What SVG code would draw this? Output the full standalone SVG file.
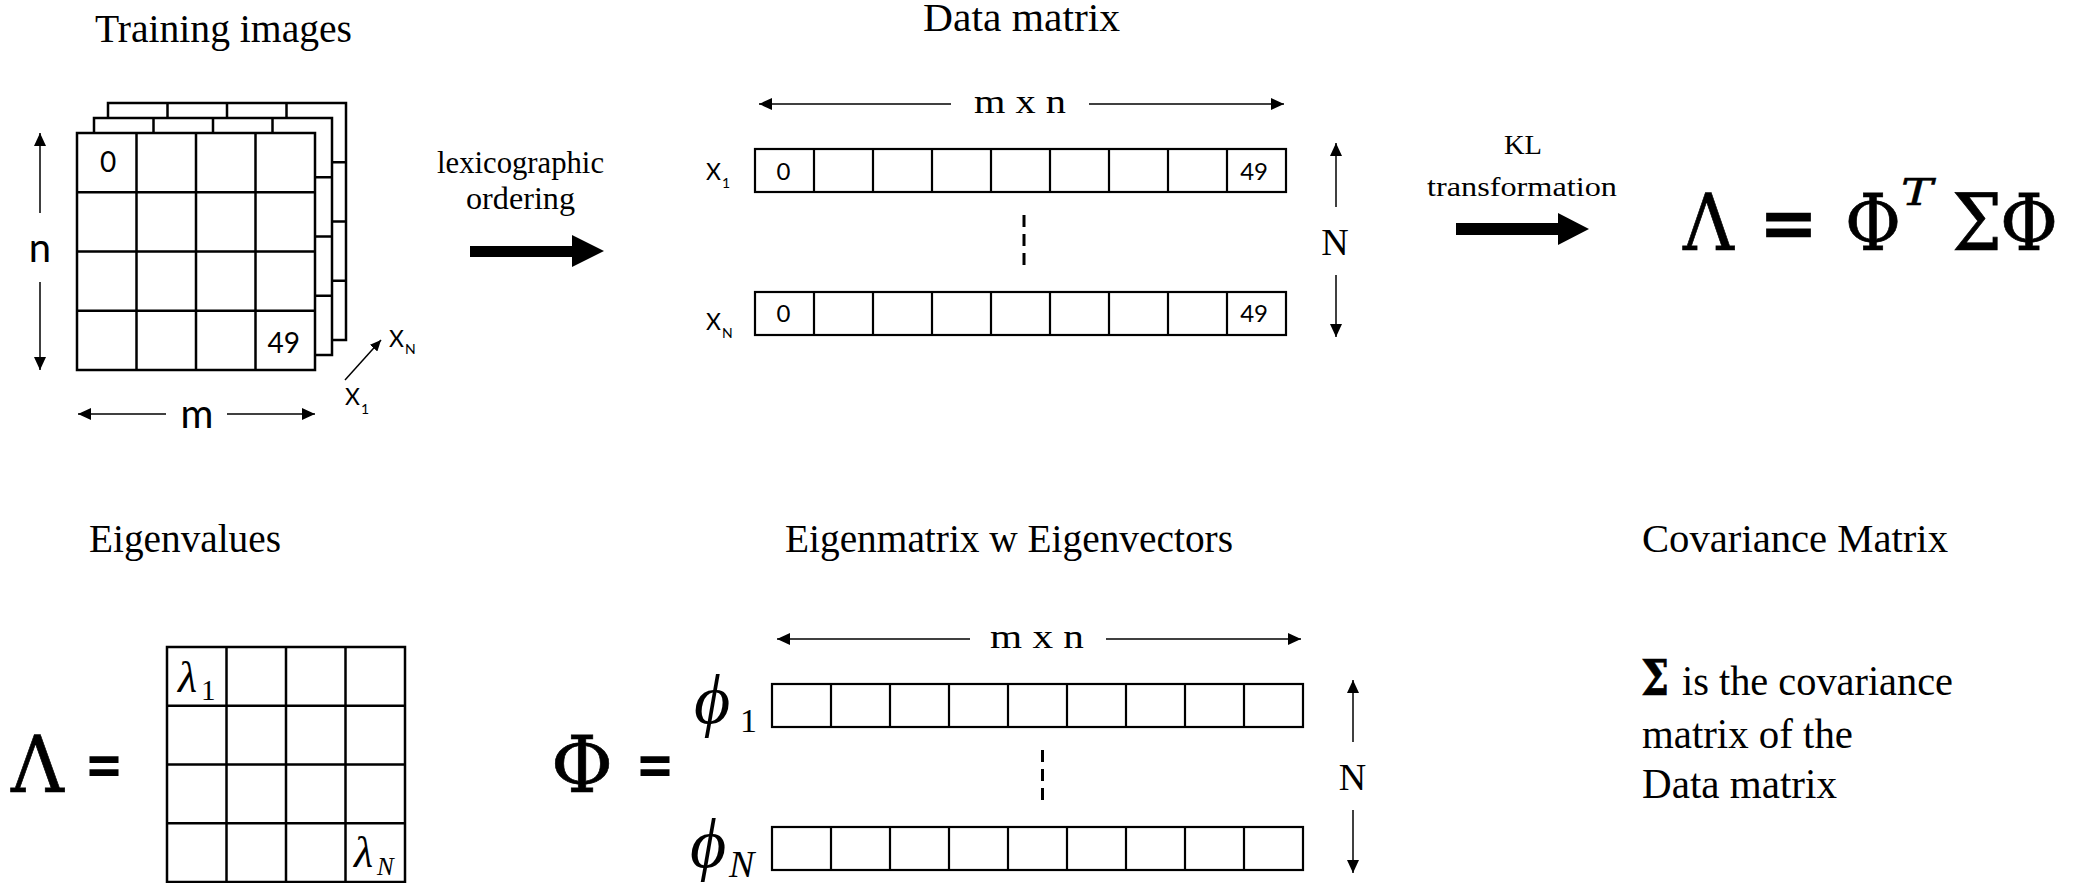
<svg xmlns="http://www.w3.org/2000/svg" width="2082" height="883" viewBox="0 0 2082 883">
  <style>
    .serif { font-family: 'Liberation Serif', 'DejaVu Serif', serif; fill: #000; }
    .math { font-family: 'DejaVu Serif', 'Liberation Serif', serif; fill: #000; stroke: #000; stroke-width: 0.7; }
    .title { font-size: 40px; }
    .body { font-size: 43px; }
    .sans { font-family: Lato, 'Open Sans', 'Liberation Sans', sans-serif; fill: #000; }
    .cell { fill: #fff; stroke: #000; stroke-width: 2.5; }
    .div { stroke: #000; stroke-width: 2.5; fill: none; }
    .thin { stroke: #000; stroke-width: 1.5; fill: none; marker-end: url(#head); }
    .dash { stroke: #000; stroke-width: 3; stroke-dasharray: 12 7; fill: none; }
    .block { fill: #000; }
  </style>
  <defs>
    <marker id="head" viewBox="0 0 13 12" refX="13" refY="6" markerWidth="13" markerHeight="12" markerUnits="userSpaceOnUse" orient="auto">
      <path d="M0,0 L13,6 L0,12 z" fill="#000"/>
    </marker>
    <marker id="headSmall" viewBox="0 0 11 10" refX="11" refY="5" markerWidth="11" markerHeight="10" markerUnits="userSpaceOnUse" orient="auto">
      <path d="M0,0 L11,5 L0,10 z" fill="#000"/>
    </marker>
    <!-- 4x4 image grid -->
    <g id="grid4">
      <rect class="cell" x="0" y="0" width="238" height="237"/>
      <path class="div" d="M59.5,0 V237 M119,0 V237 M178.5,0 V237 M0,59.25 H238 M0,118.5 H238 M0,177.75 H238"/>
    </g>
    <!-- one row vector of 9 cells -->
    <g id="row9">
      <rect class="cell" x="0" y="0" width="531" height="43" style="stroke-width:2.2"/>
      <path class="div" style="stroke-width:2.2" d="M59,0 V43 M118,0 V43 M177,0 V43 M236,0 V43 M295,0 V43 M354,0 V43 M413,0 V43 M472,0 V43"/>
    </g>
  </defs>

  <rect width="2082" height="883" fill="#fff"/>

  <!-- Section titles -->
  <g id="titles" class="serif title">
    <text x="95" y="42" textLength="257" lengthAdjust="spacingAndGlyphs">Training images</text>
    <text x="923" y="31" textLength="197" lengthAdjust="spacingAndGlyphs">Data matrix</text>
    <text x="89" y="552" textLength="192" lengthAdjust="spacingAndGlyphs">Eigenvalues</text>
    <text x="785" y="552" textLength="448" lengthAdjust="spacingAndGlyphs">Eigenmatrix w Eigenvectors</text>
    <text x="1642" y="552" textLength="306" lengthAdjust="spacingAndGlyphs">Covariance Matrix</text>
  </g>

  <!-- Stack of training images -->
  <g id="training-images">
    <use href="#grid4" x="108" y="103"/>
    <use href="#grid4" x="94" y="118"/>
    <use href="#grid4" x="77" y="133"/>
    <text class="sans" x="108" y="172" font-size="28" text-anchor="middle">0</text>
    <text class="sans" x="300" y="353" font-size="28" text-anchor="end">49</text>
    <text class="sans" x="40" y="262" font-size="40" text-anchor="middle">n</text>
    <text class="sans" x="197" y="428" font-size="40" text-anchor="middle">m</text>
    <text class="sans" x="389" y="347" font-size="23">X</text>
    <text class="sans" x="405" y="354" font-size="14">N</text>
    <text class="sans" x="345" y="405" font-size="23">X</text>
    <text class="sans" x="361" y="414" font-size="14">1</text>
  </g>

  <!-- Data matrix -->
  <g id="data-matrix">
    <use href="#row9" x="755" y="149"/>
    <use href="#row9" x="755" y="292"/>
    <text class="sans" x="706" y="180" font-size="23">X</text>
    <text class="sans" x="722" y="188" font-size="14">1</text>
    <text class="sans" x="706" y="330" font-size="23">X</text>
    <text class="sans" x="722" y="338" font-size="14">N</text>
    <text class="sans" x="783.5" y="180" font-size="24" text-anchor="middle">0</text>
    <text class="sans" x="1268" y="180" font-size="24" text-anchor="end">49</text>
    <text class="sans" x="783.5" y="322" font-size="24" text-anchor="middle">0</text>
    <text class="sans" x="1268" y="322" font-size="24" text-anchor="end">49</text>
    <text class="serif" x="974" y="113" font-size="34" textLength="92" lengthAdjust="spacingAndGlyphs">m x n</text>
    <text class="serif" x="1335" y="255" font-size="38" text-anchor="middle">N</text>
  </g>

  <!-- KL equation -->
  <g id="kl-equation" class="math">
    <text x="1683" y="250" font-size="78" textLength="51" lengthAdjust="spacingAndGlyphs">Λ</text>
    <text x="1760" y="250" font-size="78" textLength="57" lengthAdjust="spacingAndGlyphs" stroke-width="2.5">=</text>
    <text x="1845" y="250" font-size="78" textLength="56" lengthAdjust="spacingAndGlyphs">Φ</text>
    <text x="1901" y="205" font-size="38" font-style="italic" stroke-width="0.5" textLength="32" lengthAdjust="spacingAndGlyphs">T</text>
    <text x="1952" y="250" font-size="78" textLength="50" lengthAdjust="spacingAndGlyphs">Σ</text>
    <text x="2000" y="250" font-size="78" textLength="58" lengthAdjust="spacingAndGlyphs">Φ</text>
  </g>

  <!-- Eigenvalue matrix -->
  <g id="eigenvalues">
    <text class="math" x="11" y="792" font-size="78" textLength="53" lengthAdjust="spacingAndGlyphs">Λ</text>
    <text class="sans" x="85" y="791" font-size="72" font-weight="bold" textLength="38" lengthAdjust="spacingAndGlyphs">=</text>
    <rect class="cell" x="167" y="647" width="238" height="235"/>
    <path class="div" d="M226.5,647 V882 M286,647 V882 M345.5,647 V882 M167,705.75 H405 M167,764.5 H405 M167,823.25 H405"/>
    <text class="serif" x="178" y="692" font-size="44" font-style="italic">λ</text>
    <text class="serif" x="201" y="700" font-size="29">1</text>
    <text class="serif" x="354" y="867" font-size="44" font-style="italic">λ</text>
    <text class="serif" x="377" y="875" font-size="25" font-style="italic">N</text>
  </g>

  <!-- Eigenvector matrix -->
  <g id="eigenvectors">
    <text class="math" x="551" y="792" font-size="78" textLength="62" lengthAdjust="spacingAndGlyphs">Φ</text>
    <text class="sans" x="636" y="791" font-size="72" font-weight="bold" textLength="38" lengthAdjust="spacingAndGlyphs">=</text>
    <use href="#row9" x="772" y="684"/>
    <use href="#row9" x="772" y="827"/>
    <text class="serif" x="694" y="723" font-size="70" font-style="italic">ϕ</text>
    <text class="serif" x="740" y="732" font-size="34">1</text>
    <text class="serif" x="690" y="867" font-size="70" font-style="italic">ϕ</text>
    <text class="serif" x="729" y="877" font-size="38" font-style="italic">N</text>
    <text class="serif" x="990" y="648" font-size="34" textLength="94" lengthAdjust="spacingAndGlyphs">m x n</text>
    <text class="serif" x="1352.5" y="790" font-size="38" text-anchor="middle">N</text>
  </g>

  <!-- Covariance note -->
  <g id="covariance" class="serif body">
    <text class="math" x="1641" y="695" font-size="48" font-weight="bold" textLength="28" lengthAdjust="spacingAndGlyphs" stroke-width="0">Σ</text>
    <text x="1682" y="695" textLength="271" lengthAdjust="spacingAndGlyphs">is the covariance</text>
    <text x="1642" y="748" textLength="211" lengthAdjust="spacingAndGlyphs">matrix of the</text>
    <text x="1642" y="798" textLength="195" lengthAdjust="spacingAndGlyphs">Data matrix</text>
  </g>

  <!-- Step labels -->
  <g id="step-labels" class="serif">
    <text x="437" y="173" font-size="32" textLength="167" lengthAdjust="spacingAndGlyphs">lexicographic</text>
    <text x="466" y="209" font-size="32" textLength="109" lengthAdjust="spacingAndGlyphs">ordering</text>
    <text x="1504" y="154" font-size="27" textLength="38" lengthAdjust="spacingAndGlyphs">KL</text>
    <text x="1427" y="196" font-size="28" textLength="190" lengthAdjust="spacingAndGlyphs">transformation</text>
  </g>

  <!-- Connectors: dimension arrows, step arrows, ellipsis marks -->
  <g id="connectors">
    <line class="thin" x1="40" y1="213" x2="40" y2="133"/>
    <line class="thin" x1="40" y1="282" x2="40" y2="370"/>
    <line class="thin" x1="166" y1="414" x2="78" y2="414"/>
    <line class="thin" x1="227" y1="414" x2="315" y2="414"/>
    <line x1="345" y1="380" x2="381" y2="340" stroke="#000" stroke-width="1.5" marker-end="url(#headSmall)"/>

    <line class="thin" x1="951" y1="104" x2="759" y2="104"/>
    <line class="thin" x1="1089" y1="104" x2="1284" y2="104"/>
    <line class="thin" x1="1336" y1="207" x2="1336" y2="143"/>
    <line class="thin" x1="1336" y1="275" x2="1336" y2="337"/>
    <line class="dash" x1="1024" y1="215" x2="1024" y2="265"/>

    <line class="thin" x1="970" y1="639" x2="777" y2="639"/>
    <line class="thin" x1="1106" y1="639" x2="1301" y2="639"/>
    <line class="thin" x1="1353" y1="742" x2="1353" y2="680"/>
    <line class="thin" x1="1353" y1="810" x2="1353" y2="873"/>
    <line class="dash" x1="1042.5" y1="750" x2="1042.5" y2="800"/>

    <polygon class="block" points="470,246 572,246 572,235 604,251 572,267 572,257 470,257"/>
    <polygon class="block" points="1456,223 1558,223 1558,213 1589,229 1558,245 1558,235 1456,235"/>
  </g>
</svg>
